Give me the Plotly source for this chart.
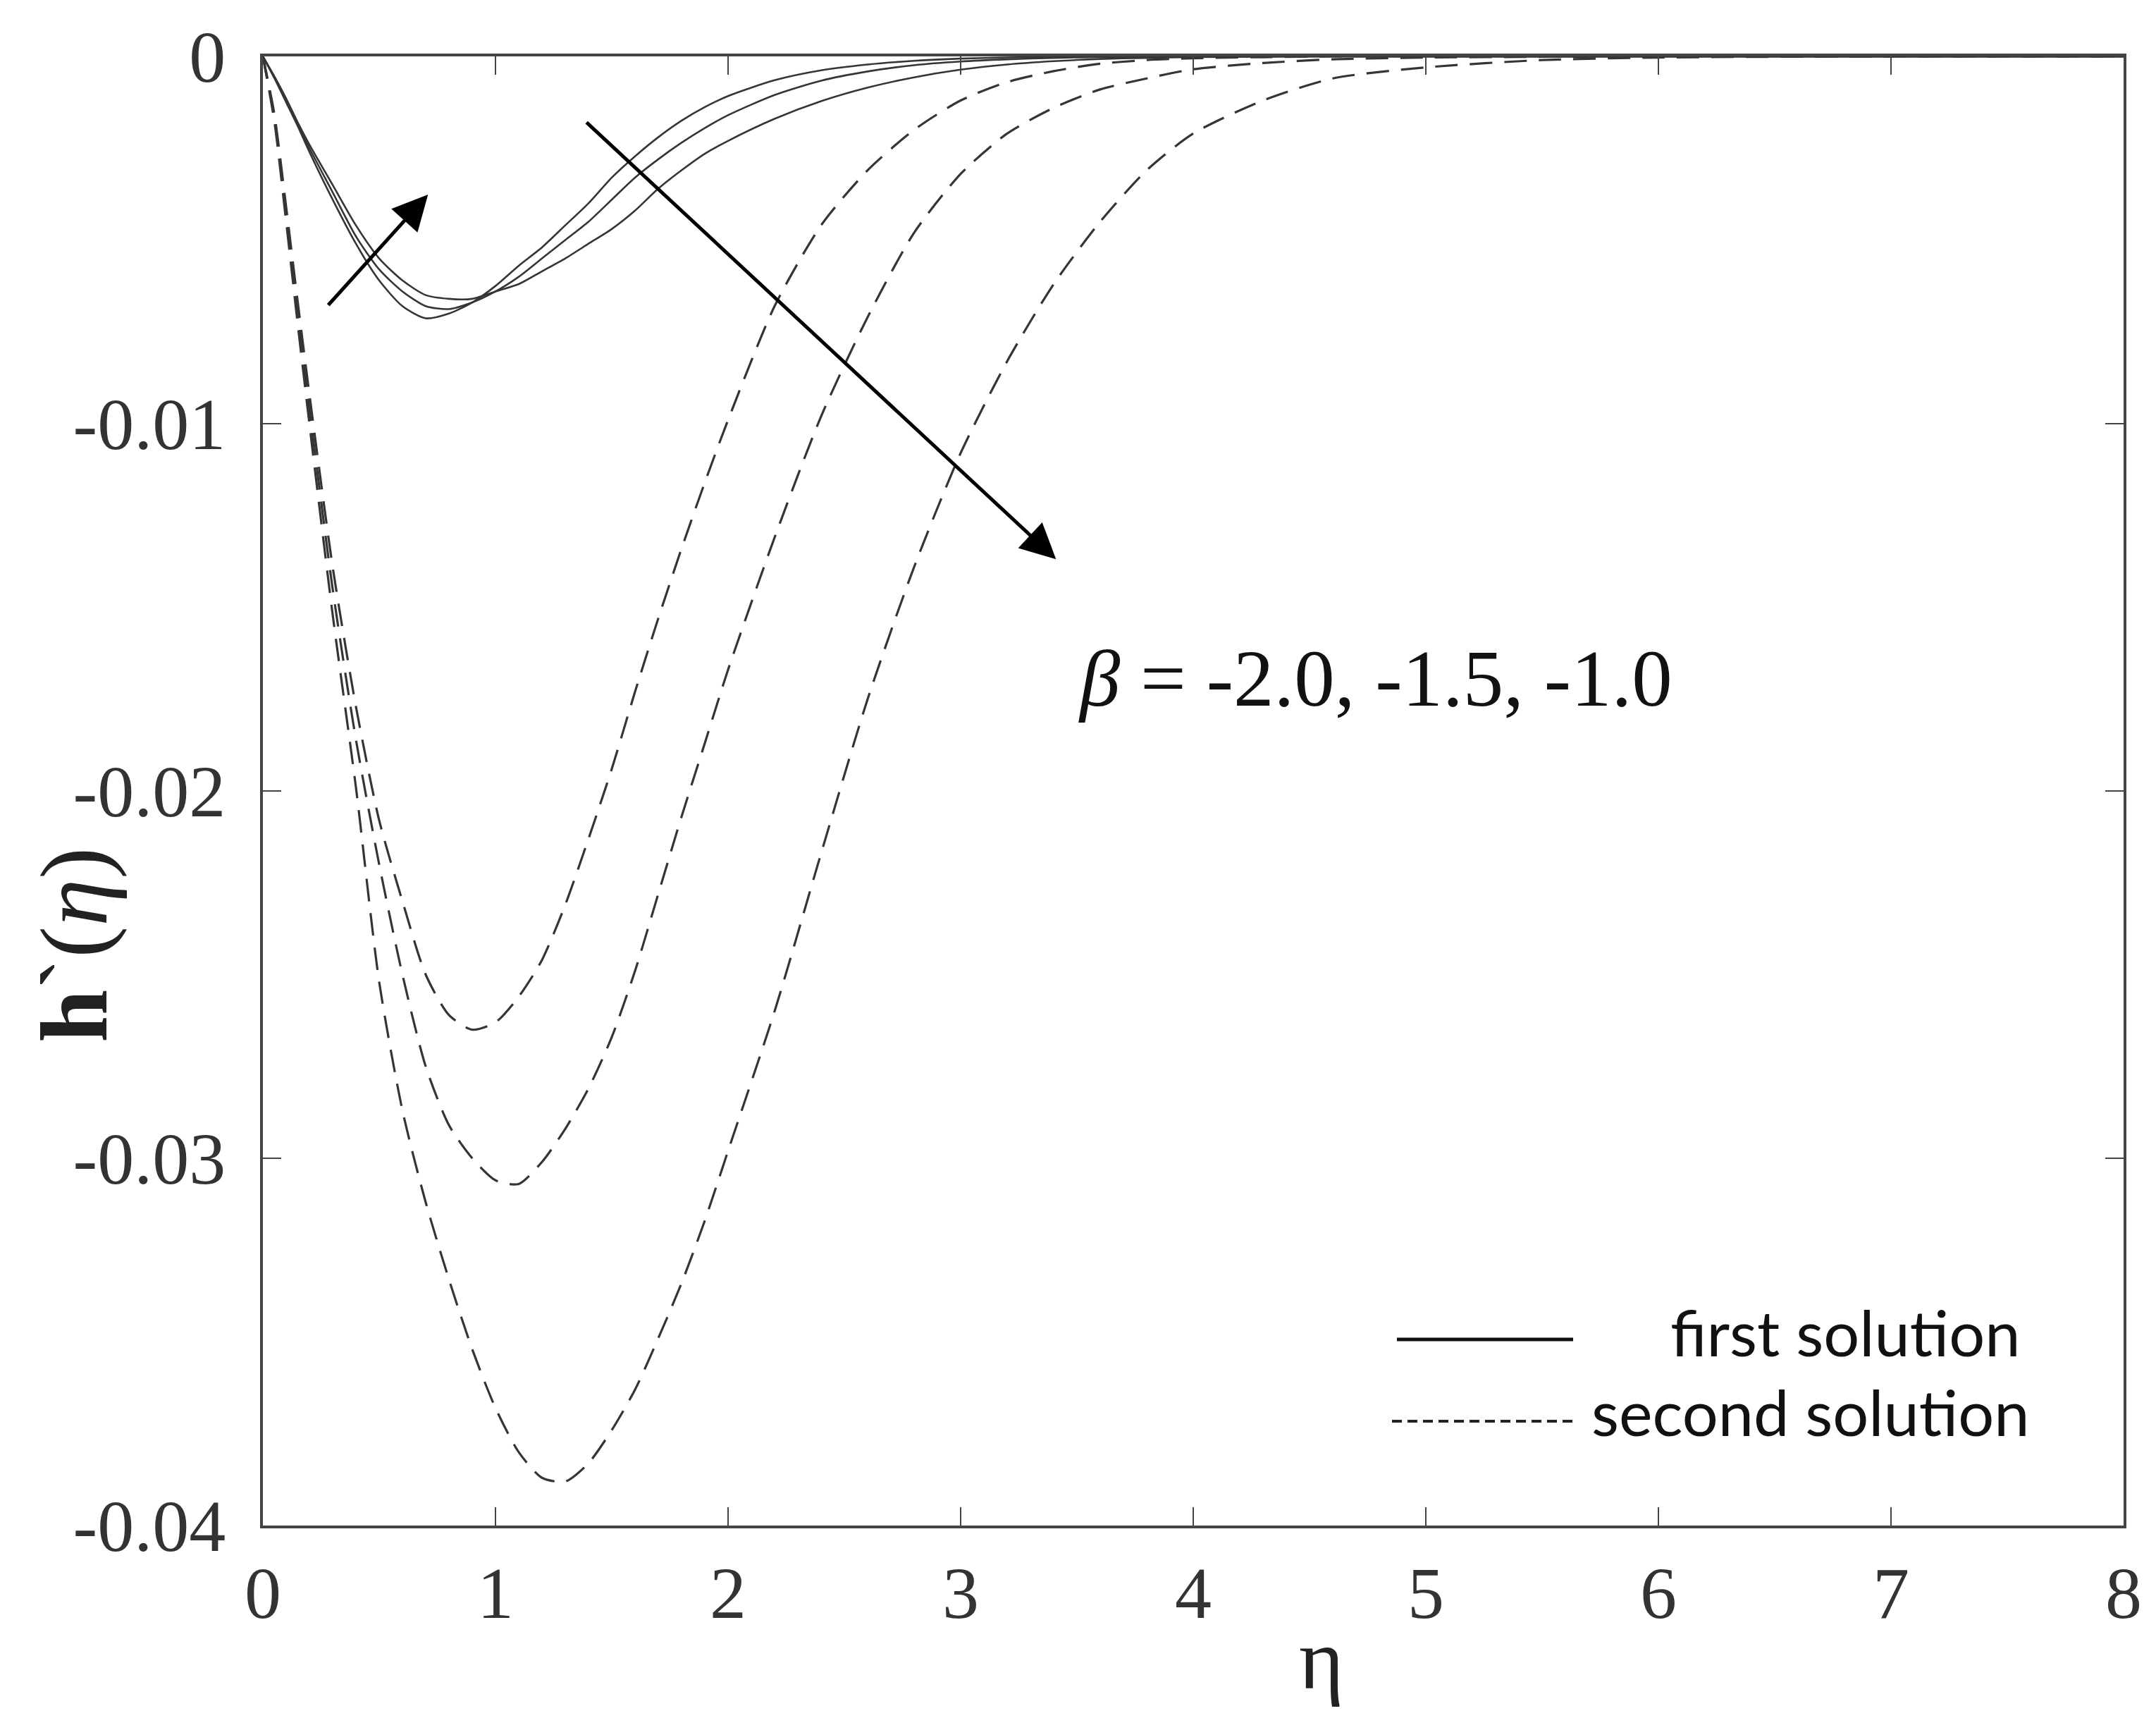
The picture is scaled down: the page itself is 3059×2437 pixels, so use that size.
import plotly.graph_objects as go

# ---------------- data ----------------
eta = [0, 0.05, 0.1, 0.15, 0.2, 0.3, 0.4, 0.5, 0.6, 0.7, 0.8, 0.9, 1.0, 1.1, 1.2,
       1.3, 1.4, 1.5, 1.6, 1.7, 1.8, 1.9, 2.0, 2.2, 2.4, 2.6, 2.8, 3.0, 3.2, 3.4,
       3.6, 3.8, 4.0, 4.3, 4.6, 5.0, 5.5, 6.0, 7.0, 8.0]

# first solution (solid), beta = -2.0, -1.5, -1.0
first_b20 = [0, -0.0006, -0.00125, -0.0019, -0.0026, -0.0039, -0.0051, -0.0061, -0.0068, -0.00713,
             -0.0070, -0.0067, -0.00625, -0.0057, -0.0052, -0.0046, -0.0040, -0.0033, -0.00272, -0.0022,
             -0.00175, -0.00138, -0.00108, -0.00065, -0.00038, -0.00022, -0.00012, -0.00006, -0.00003, -0.00001,
             0, 0, 0, 0, 0, 0, 0, 0, 0, 0]
first_b15 = [0, -0.00058, -0.0012, -0.00185, -0.0025, -0.0037, -0.0049, -0.0058, -0.0064, -0.0068,
             -0.00688, -0.0067, -0.0064, -0.0060, -0.0055, -0.0050, -0.0045, -0.0039, -0.0033, -0.0028,
             -0.00235, -0.00195, -0.0016, -0.00105, -0.00066, -0.00041, -0.00024, -0.00014, -0.00008, -0.00004,
             -0.00002, -0.00001, 0, 0, 0, 0, 0, 0, 0, 0]
first_b10 = [0, -0.00055, -0.00115, -0.0018, -0.0024, -0.0035, -0.0046, -0.0055, -0.0061, -0.0065,
             -0.0066, -0.0066, -0.0064, -0.0062, -0.00585, -0.0055, -0.0051, -0.0047, -0.0042, -0.0036,
             -0.0031, -0.00265, -0.0023, -0.0017, -0.00122, -0.00085, -0.00057, -0.00036, -0.00022, -0.00013,
             -0.00007, -0.00004, -0.00002, -0.00001, 0, 0, 0, 0, 0, 0]

# second solution (dashed), beta = -2.0, -1.5, -1.0
second_b20 = [0, -0.0016, -0.0041, -0.0067, -0.0092, -0.0139, -0.0177, -0.0208, -0.0230, -0.0250,
              -0.0261, -0.0265, -0.0263, -0.0256, -0.0246, -0.0231, -0.0213, -0.0194, -0.0173, -0.0153,
              -0.0134, -0.0116, -0.0099, -0.0068, -0.0046, -0.0031, -0.0020, -0.0012, -0.0007, -0.0004,
              -0.0002, -0.0001, -0.00005, -0.00002, 0, 0, 0, 0, 0, 0]
second_b15 = [0, -0.0017, -0.0043, -0.0070, -0.0096, -0.0145, -0.0186, -0.0220, -0.0250, -0.0275,
              -0.0291, -0.0300, -0.0306, -0.0307, -0.0301, -0.0292, -0.0281, -0.0267, -0.0249, -0.0228,
              -0.0207, -0.0187, -0.0167, -0.0131, -0.0098, -0.0071, -0.0048, -0.0032, -0.0021, -0.0014,
              -0.0009, -0.0006, -0.00035, -0.00018, -0.00008, -0.00003, -0.00001, 0, 0, 0]
second_b10 = [0, -0.0018, -0.0045, -0.0073, -0.0100, -0.0152, -0.0199, -0.0252, -0.0287, -0.0312,
              -0.0333, -0.0352, -0.0368, -0.0380, -0.0387, -0.0388, -0.0383, -0.0374, -0.0363, -0.0349,
              -0.0334, -0.0317, -0.0298, -0.0260, -0.0217, -0.0175, -0.0139, -0.0108, -0.0083, -0.0062,
              -0.0045, -0.0031, -0.0021, -0.0012, -0.0006, -0.0003, -0.0001, -0.00003, 0, 0]

x_ticks = [0, 1, 2, 3, 4, 5, 6, 7, 8]
x_tick_labels = ["0", "1", "2", "3", "4", "5", "6", "7", "8"]
y_ticks = [0, -0.01, -0.02, -0.03, -0.04]
y_tick_labels = ["0", "-0.01", "-0.02", "-0.03", "-0.04"]

# ---------------- figure ----------------
W, H = 3059, 2437
ML, MR, MT, MB = 365, 54, 72, 281
line_col = "#353535"

fig = go.Figure()
for ys in (first_b20, first_b15, first_b10):
    fig.add_trace(go.Scatter(x=eta, y=ys, mode="lines", showlegend=False,
                             line=dict(color=line_col, width=2.6, shape="spline", smoothing=0.7)))
for ys in (second_b20, second_b15, second_b10):
    fig.add_trace(go.Scatter(x=eta, y=ys, mode="lines", showlegend=False,
                             line=dict(color=line_col, width=3.2, dash="32px,17px",
                                       shape="spline", smoothing=0.7)))

axis_common = dict(
    showline=True, linewidth=4, linecolor="#444444", mirror="ticks",
    ticks="inside", ticklen=26, tickwidth=2, tickcolor="#444444",
    showgrid=False, zeroline=False,
    tickfont=dict(family="Liberation Serif", size=104, color="#333333"),
)
fig.update_xaxes(range=[0, 8], tickvals=x_ticks, ticktext=x_tick_labels,
                 ticklabelstandoff=2, **axis_common)
fig.update_yaxes(range=[-0.04, 0], tickvals=y_ticks, ticktext=y_tick_labels,
                 ticklabelstandoff=28, **axis_common)

# paper-coordinate helpers for the legend box
def px_x(p):
    return (p - ML) / (W - ML - MR)

def px_y(p):
    return (H - MB - p) / (H - MT - MB)

shapes = [
    dict(type="line", xref="paper", yref="paper", x0=px_x(1974), x1=px_x(2224),
         y0=px_y(1892), y1=px_y(1892), line=dict(color="#111111", width=5)),
    dict(type="line", xref="paper", yref="paper", x0=px_x(1967), x1=px_x(2230),
         y0=px_y(2008), y1=px_y(2008), line=dict(color="#222222", width=4, dash="14px,8px")),
]

annotations = [
    # legend labels
    dict(xref="paper", yref="paper", x=px_x(2360), y=px_y(1881), xanchor="left", yanchor="middle",
         text="first solution", showarrow=False,
         font=dict(family="Lato", size=90, color="#111111")),
    dict(xref="paper", yref="paper", x=px_x(2248), y=px_y(1994), xanchor="left", yanchor="middle",
         text="second solution", showarrow=False,
         font=dict(family="Lato", size=90, color="#111111")),
    # beta label
    dict(xref="x", yref="y", x=3.50, y=-0.01693, xanchor="left", yanchor="middle",
         text="<i>β</i> = -2.0, -1.5, -1.0", showarrow=False,
         font=dict(family="Liberation Serif", size=115, color="#111111")),
    # arrows
    dict(xref="x", yref="y", axref="x", ayref="y", x=0.71, y=-0.00376, ax=0.277, ay=-0.0068,
         text="", showarrow=True, arrowhead=2, arrowwidth=5, arrowsize=2.0, arrowcolor="#000000"),
    dict(xref="x", yref="y", axref="x", ayref="y", x=3.41, y=-0.01369, ax=1.387, ay=-0.00177,
         text="", showarrow=True, arrowhead=2, arrowwidth=5, arrowsize=2.0, arrowcolor="#000000"),
    # axis titles
    dict(xref="x", yref="paper", x=4.55, y=px_y(2345), xanchor="center", yanchor="middle",
         text="η", showarrow=False,
         font=dict(family="Liberation Serif", size=122, color="#222222")),
    dict(xref="paper", yref="y", x=px_x(98), y=-0.0242, xanchor="center", yanchor="middle",
         textangle=-90, text="<b>h</b>`(<i>η</i>)", showarrow=False,
         font=dict(family="Liberation Serif", size=135, color="#222222")),
]

fig.update_layout(
    width=W, height=H,
    margin=dict(l=ML, r=MR, t=MT, b=MB),
    paper_bgcolor="white", plot_bgcolor="white",
    showlegend=False,
    shapes=shapes, annotations=annotations,
)

fig.write_html("out.html")
